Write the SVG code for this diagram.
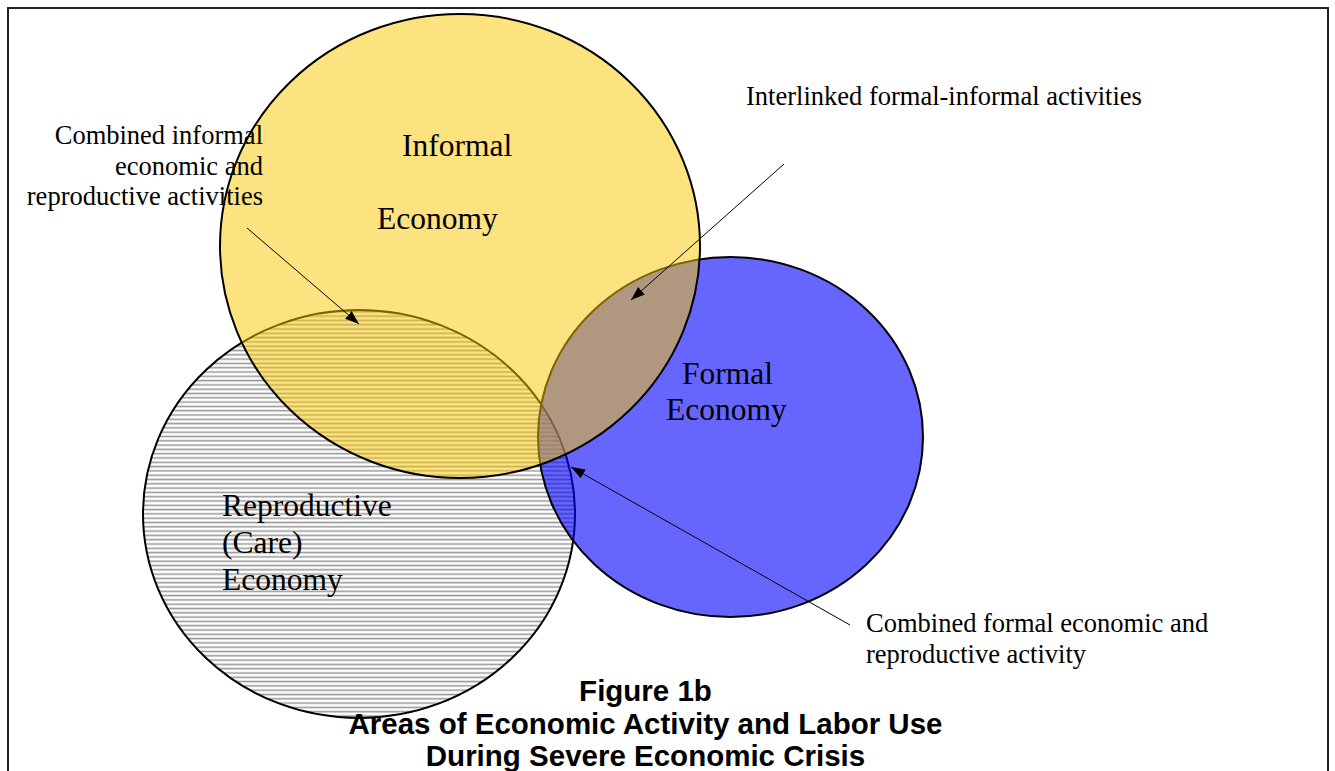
<svg xmlns="http://www.w3.org/2000/svg" width="1335" height="771" viewBox="0 0 1335 771">
<defs>
<pattern id="hatch" patternUnits="userSpaceOnUse" x="0" y="0" width="8" height="4.3">
<rect x="0" y="0" width="8" height="4.3" fill="#ffffff"/>
<rect x="0" y="1.4" width="8" height="1.6" fill="#9a9a9a"/>
</pattern>
<marker id="arr" markerUnits="userSpaceOnUse" markerWidth="15" markerHeight="12" refX="14" refY="5" orient="auto">
<path d="M0,0 L14,5 L0,10 z" fill="#000"/>
</marker>
<style>
.ser{font-family:"Liberation Serif","Times New Roman",serif;fill:#000}
.big{font-size:31.5px}
.small{font-size:26.5px}
.ttl{font-family:"Liberation Sans",Arial,sans-serif;font-weight:bold;font-size:29.5px;fill:#000}
.conn line{stroke:#000;stroke-width:1;marker-end:url(#arr)}
.outline{stroke:#000;stroke-width:2}
</style>
</defs>
<rect x="0" y="0" width="1335" height="771" fill="#fff"/>
<rect x="8" y="8" width="1320" height="800" fill="none" stroke="#222" stroke-width="2"/>
<g id="reproductive">
<ellipse cx="359" cy="514" rx="216" ry="204" fill="url(#hatch)" class="outline"/>
</g>
<g id="formal">
<ellipse cx="730.5" cy="437" rx="192.5" ry="180" fill="#0000ff" fill-opacity="0.6" stroke="#000" stroke-width="2"/>
</g>
<g id="informal">
<ellipse cx="460" cy="246" rx="240" ry="232" fill="#fbc700" fill-opacity="0.5" class="outline"/>
</g>
<g id="labels">
<text class="ser big" x="402" y="156">Informal</text>
<text class="ser big" x="377" y="229">Economy</text>
<text class="ser big" x="682" y="384">Formal</text>
<text class="ser big" x="666" y="420">Economy</text>
<text class="ser big" x="222" y="516">Reproductive</text>
<text class="ser big" x="222" y="553">(Care)</text>
<text class="ser big" x="222" y="590">Economy</text>
<text class="ser small" text-anchor="end" x="263" y="144">Combined informal</text>
<text class="ser small" text-anchor="end" x="263" y="175">economic and</text>
<text class="ser small" text-anchor="end" x="263" y="205">reproductive activities</text>
<text class="ser small" x="746" y="105">Interlinked formal-informal activities</text>
<text class="ser small" x="866" y="632">Combined formal economic and</text>
<text class="ser small" x="866" y="663">reproductive activity</text>
</g>
<g id="connectors" class="conn">
<line x1="247" y1="228" x2="359" y2="324"/>
<line x1="784" y1="164" x2="631" y2="300"/>
<line x1="850" y1="625" x2="571" y2="467"/>
</g>
<g id="title">
<text class="ttl" text-anchor="middle" x="645.5" y="701">Figure 1b</text>
<text class="ttl" text-anchor="middle" x="645.5" y="734">Areas of Economic Activity and Labor Use</text>
<text class="ttl" text-anchor="middle" x="645.5" y="766">During Severe Economic Crisis</text>
</g>
</svg>
